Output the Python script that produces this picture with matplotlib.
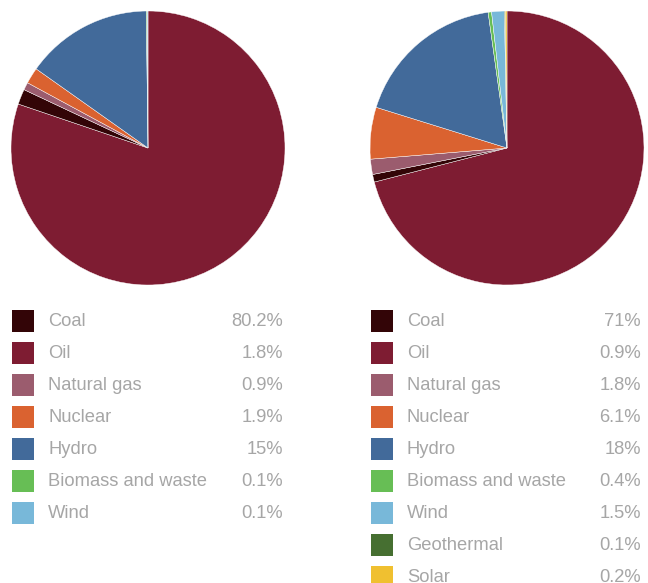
import matplotlib
matplotlib.use("Agg")
import matplotlib.pyplot as plt
from matplotlib.patches import Rectangle

labels_left = ["Coal", "Oil", "Natural gas", "Nuclear", "Hydro", "Biomass and waste", "Wind"]
values_left = [80.2, 1.8, 0.9, 1.9, 15, 0.1, 0.1]
value_text_left = ["80.2%", "1.8%", "0.9%", "1.9%", "15%", "0.1%", "0.1%"]

labels_right = ["Coal", "Oil", "Natural gas", "Nuclear", "Hydro", "Biomass and waste", "Wind", "Geothermal", "Solar"]
values_right = [71, 0.9, 1.8, 6.1, 18, 0.4, 1.5, 0.1, 0.2]
value_text_right = ["71%", "0.9%", "1.8%", "6.1%", "18%", "0.4%", "1.5%", "0.1%", "0.2%"]

legend_colors = ["#330507", "#7E1C32", "#9B5C6E", "#DA6230", "#426A9A", "#67BE55", "#78B8D9", "#466F31", "#F0C030"]
# slice colours as drawn in the pies (first two swapped relative to legend)
pie_colors = ["#7E1C32", "#330507", "#9B5C6E", "#DA6230", "#426A9A", "#67BE55", "#78B8D9", "#466F31", "#F0C030"]

W, H = 648, 583
fig = plt.figure(figsize=(W / 100, H / 100), dpi=100)
ax = fig.add_axes([0, 0, 1, 1])
ax.set_xlim(0, W)
ax.set_ylim(0, H)
ax.set_aspect("equal")
ax.axis("off")

def Y(py):
    return H - py

for vals, cx in [(values_left, 148), (values_right, 507)]:
    ax.pie(vals, colors=pie_colors[:len(vals)], startangle=90, counterclock=False,
           center=(cx, Y(148)), radius=137, frame=True,
           wedgeprops=dict(edgecolor="white", linewidth=0.3))
ax.set_xlim(0, W)
ax.set_ylim(0, H)
ax.axis("off")

font = "Liberation Sans"
gray = "#A6A6A6"

def legend(labels, texts, sq_x, lab_x, val_x):
    for i, (lab, t) in enumerate(zip(labels, texts)):
        top = 310 + 32 * i
        ax.add_patch(Rectangle((sq_x, Y(top + 22)), 22, 22, color=legend_colors[i], lw=0))
        yc = Y(top + 12)
        ax.text(lab_x, yc, lab, fontsize=13.2, color=gray, family=font, va="center", ha="left")
        ax.text(val_x, yc, t, fontsize=13.2, color=gray, family=font, va="center", ha="right")

legend(labels_left, value_text_left, 12, 48, 283)
legend(labels_right, value_text_right, 371, 407, 641)

fig.savefig("out.png", dpi=100)
